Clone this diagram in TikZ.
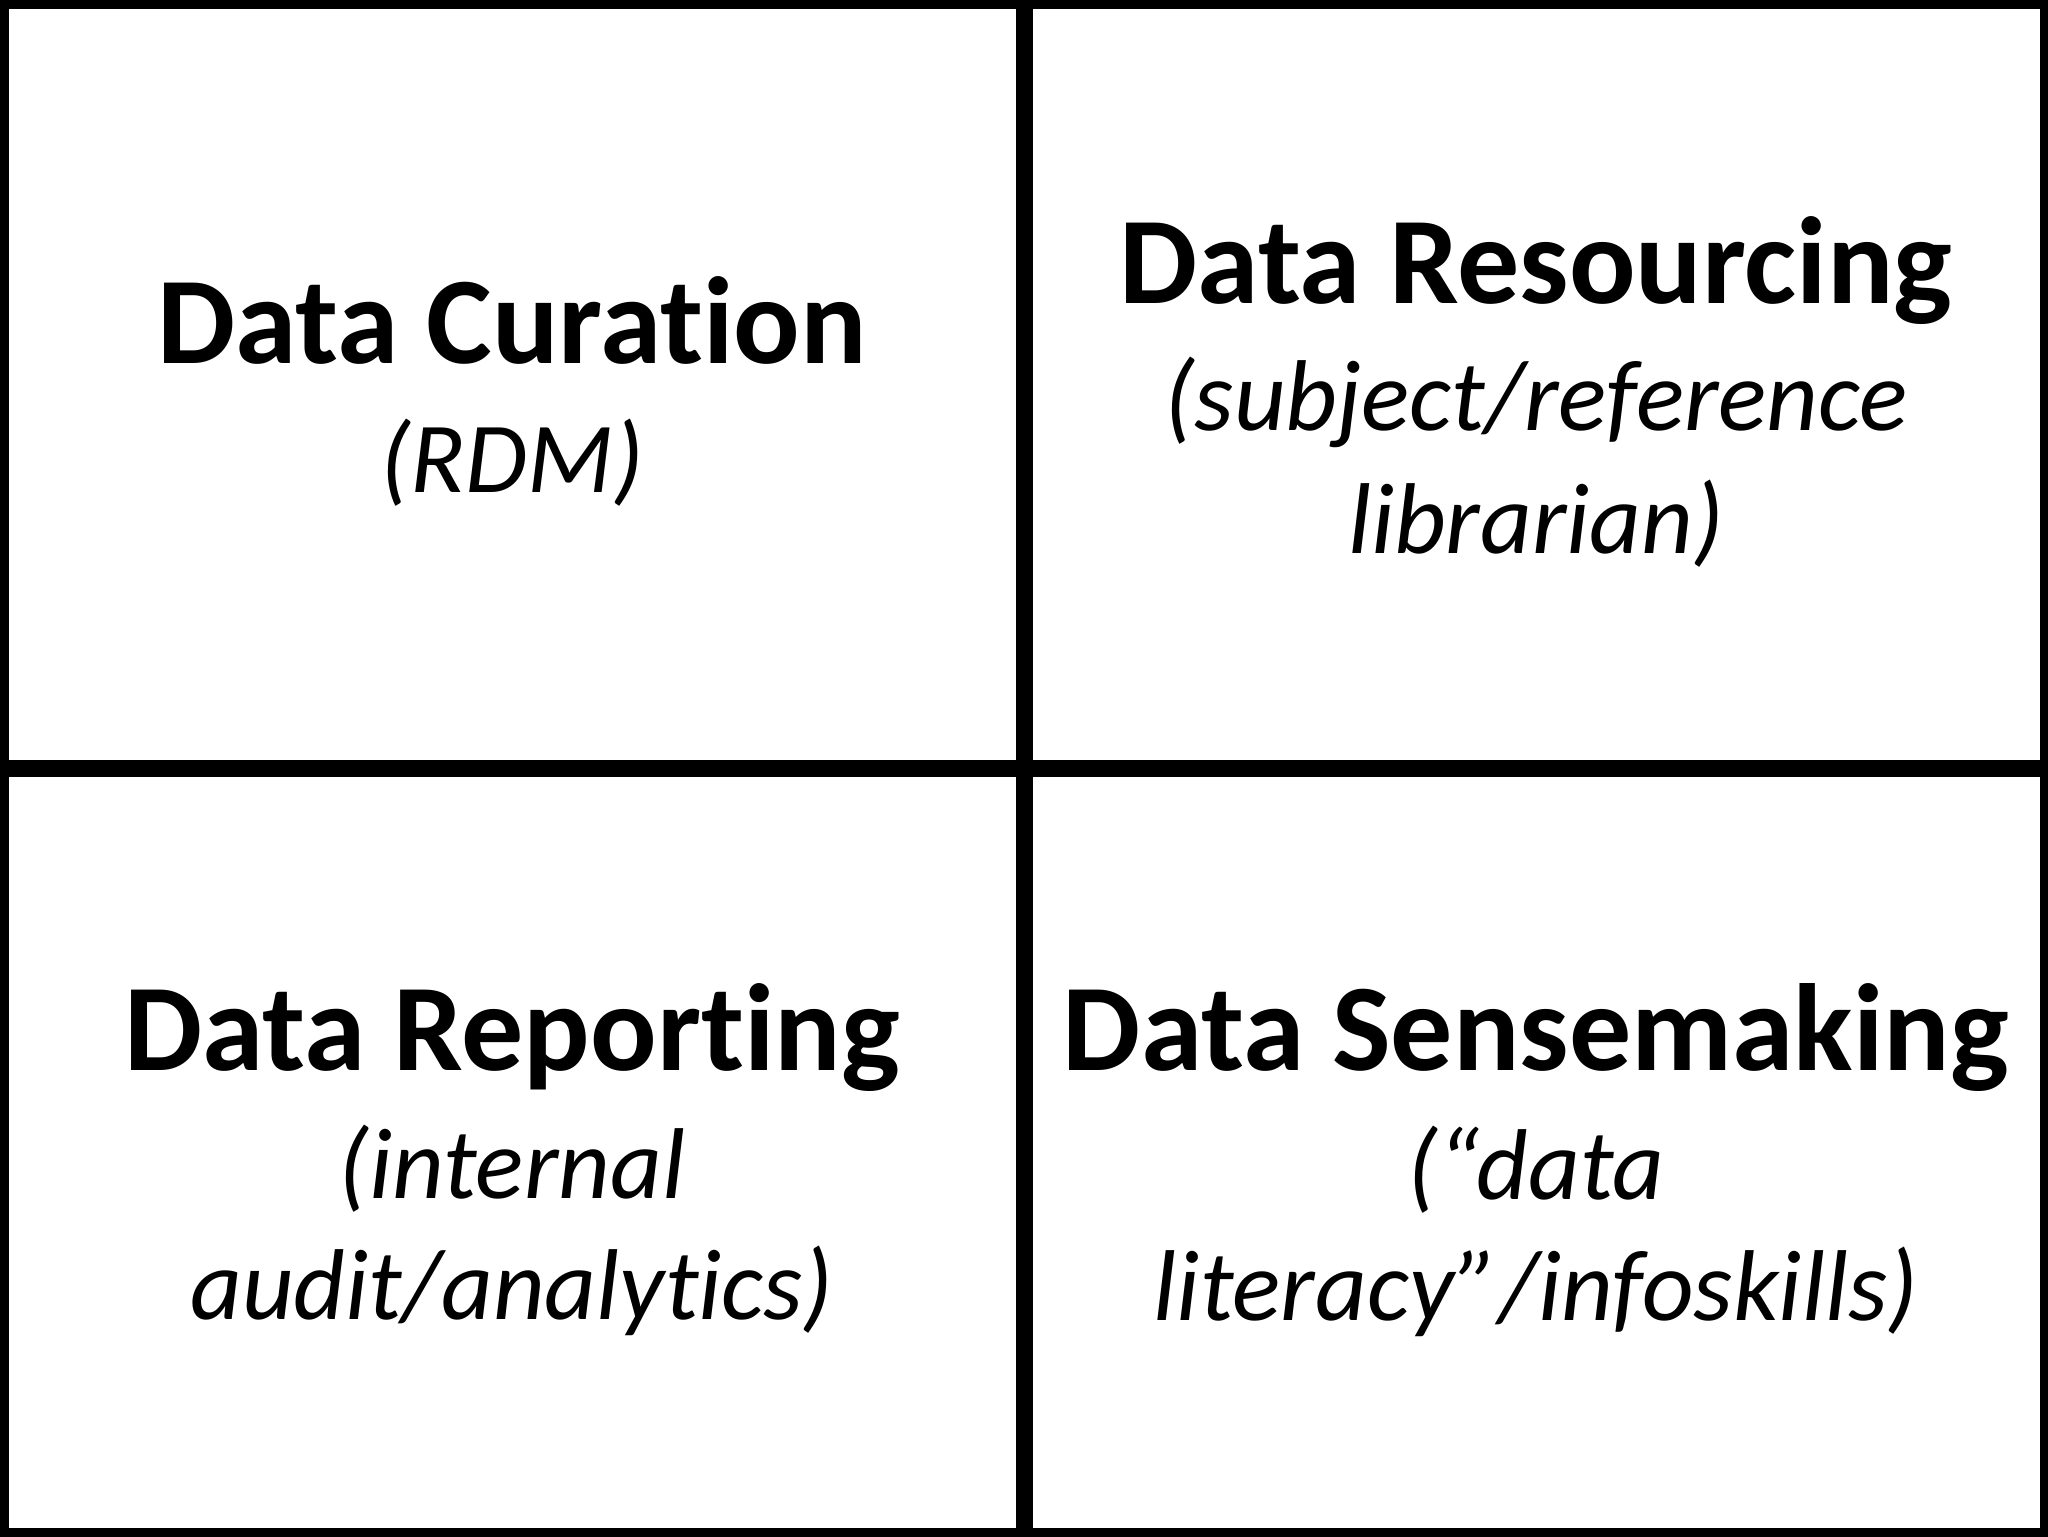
\documentclass[tikz,border=0pt]{standalone}
\usepackage{fontspec}
\setmainfont{Carlito}[Ligatures={TeX,NoCommon}]
\begin{document}
\begin{tikzpicture}[x=0.75pt,y=0.75pt,yscale=-1,xscale=1,
  title/.style={anchor=base,inner sep=0pt,font=\fontsize{93}{110}\selectfont\bfseries},
  sub/.style={anchor=base,inner sep=0pt,font=\fontsize{75.5}{90}\selectfont\itshape},
  grid line/.style={line width=12.75pt}]
\useasboundingbox (0,0) rectangle (2048,1536);

%Shape: Rectangle
\draw [grid line] (0,0) rectangle (2048,1536);
%Straight Lines
\draw [grid line] (1024,0) -- (1024,1536);
%Straight Lines
\draw [grid line] (0,768) -- (2048,768);

% Text Node
\node [title] (curation) at (512,363) {Data Curation};
% Text Node
\node [sub] (curationA) at (512,492) {(RDM)};

% Text Node
\node [title] (resourcing) at (1536,303) {Data Resourcing};
% Text Node
\node [sub] (resourcingA) at (1536,430) {(subject/reference};
% Text Node
\node [sub] (resourcingB) at (1536,553) {librarian)};

% Text Node
\node [title] (reporting) at (512,1070) {Data Reporting};
% Text Node
\node [sub] (reportingA) at (512,1198) {(internal};
% Text Node
\node [sub] (reportingB) at (512,1319) {audit/analytics)};

% Text Node
\node [title] (sensemaking) at (1536,1070) {Data Sensemaking};
% Text Node
\node [sub] (sensemakingA) at (1536,1199) {(“data};
% Text Node
\node [sub] (sensemakingB) at (1536,1320) {literacy”/infoskills)};

\end{tikzpicture}
\end{document}
